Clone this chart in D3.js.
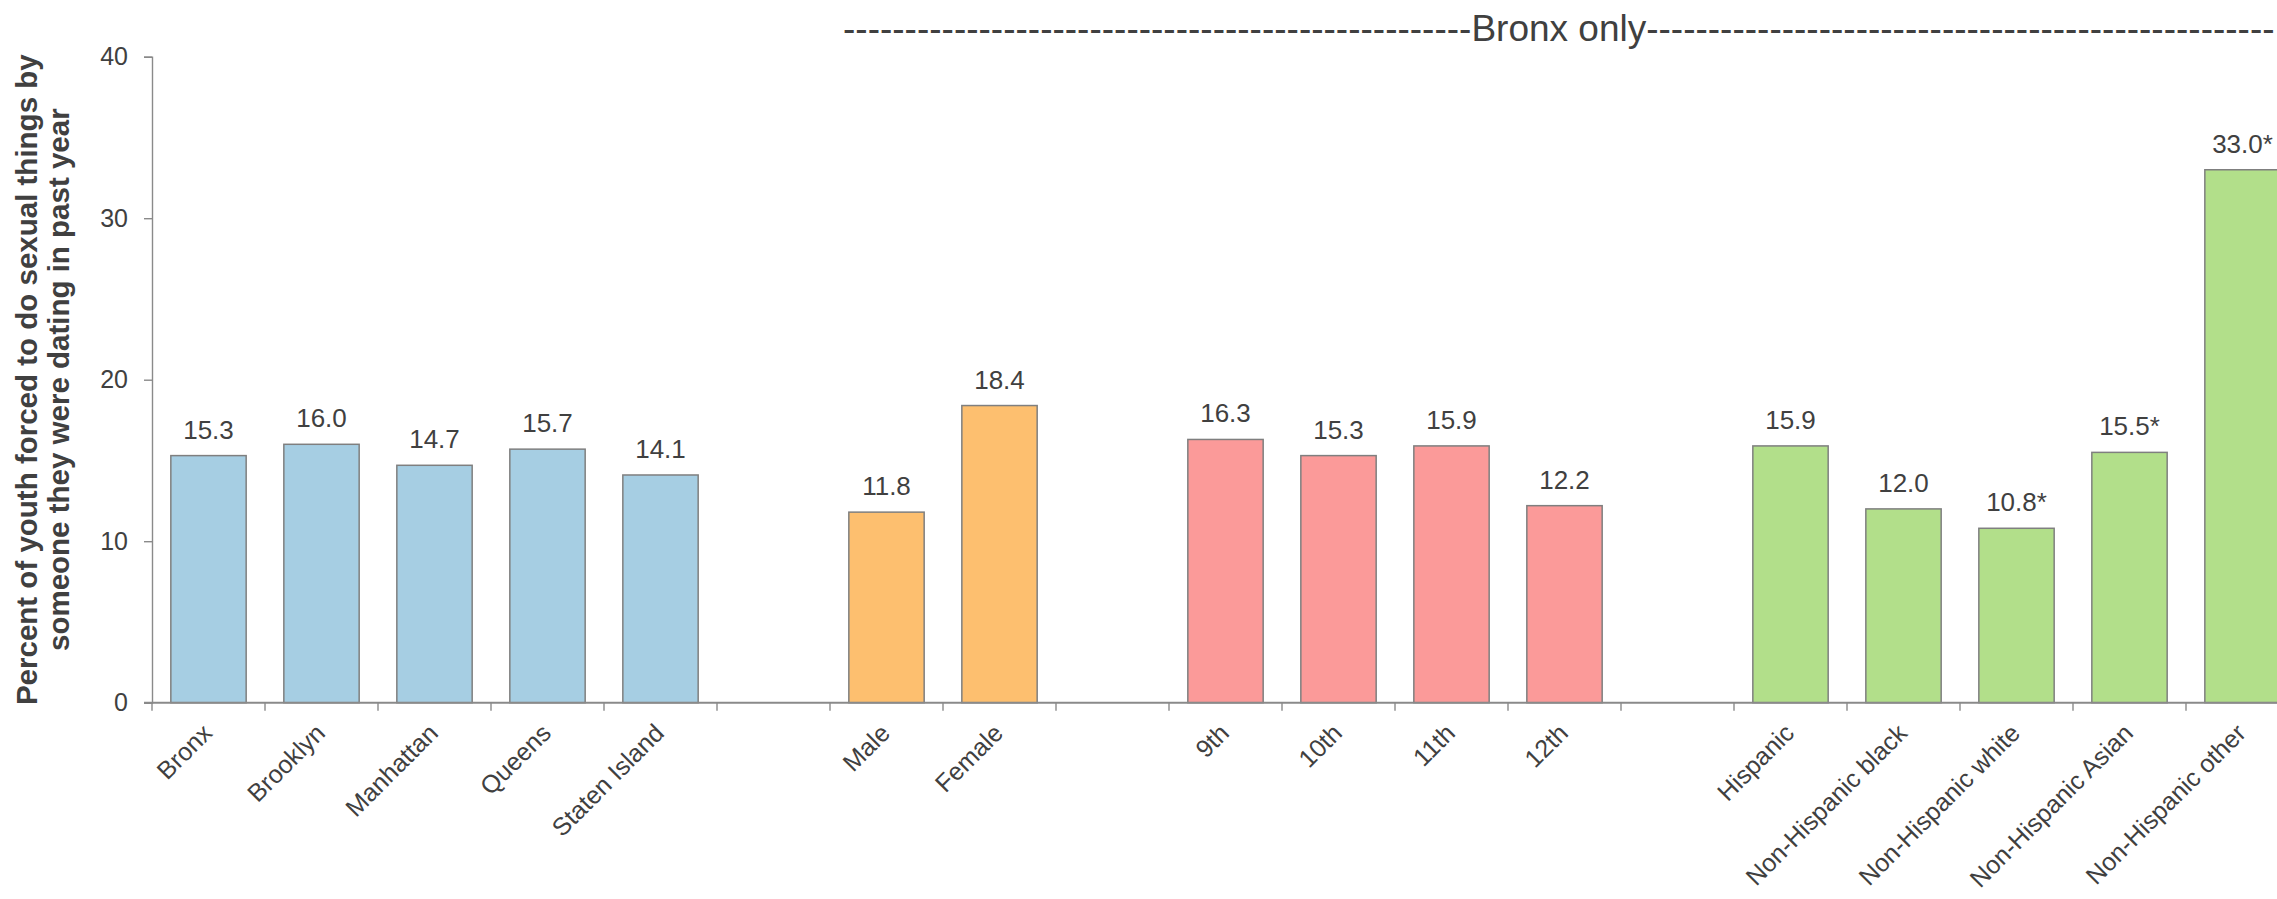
<!DOCTYPE html>
<html>
<head>
<meta charset="utf-8">
<script src="https://cdn.jsdelivr.net/npm/d3@7"></script>
<style>
  html, body { margin: 0; padding: 0; background: #fff; }
  svg { display: block; font-family: "Liberation Sans", Arial, Helvetica, sans-serif; }
</style>
</head>
<body>
<svg id="chart" width="2277" height="899"></svg>
<script>
// Borough-level estimates
const boroughs = ["Bronx", "Brooklyn", "Manhattan", "Queens", "Staten Island"];
const boroughValues = [15.3, 16.0, 14.7, 15.7, 14.1];

// Bronx only: by sex, grade and race/ethnicity
const sexes = ["Male", "Female"];
const sexValues = [11.8, 18.4];

const grades = ["9th", "10th", "11th", "12th"];
const gradeValues = [16.3, 15.3, 15.9, 12.2];

const races = ["Hispanic", "Non-Hispanic black", "Non-Hispanic white", "Non-Hispanic Asian", "Non-Hispanic other"];
const raceValues = [15.9, 12.0, 10.8, 15.5, 33.0];
const raceNotes = ["", "", "*", "*", "*"];

const yTicks = [0, 10, 20, 30, 40];
const yTitle = ["Percent of youth forced to do sexual things by", "someone they were dating in past year"];
const headerLabel = "Bronx only";

const groupColors = ["#a6cee3", "#fdbf6f", "#fb9a99", "#b2df8a"];

// Assemble the bars with spacer slots between groups
const groups = [
  { names: boroughs, values: boroughValues, notes: boroughs.map(() => "") },
  { names: sexes, values: sexValues, notes: sexes.map(() => "") },
  { names: grades, values: gradeValues, notes: grades.map(() => "") },
  { names: races, values: raceValues, notes: raceNotes }
];
const domain = [];
const bars = [];
groups.forEach((g, gi) => {
  if (gi > 0) domain.push("__gap" + gi);
  g.names.forEach((n, i) => {
    domain.push(n);
    bars.push({ name: n, value: g.values[i], note: g.notes[i], color: groupColors[gi] });
  });
});

const svg = d3.select("#chart");
const left = 152, step = 113;
const x = d3.scaleBand()
  .domain(domain)
  .range([left, left + step * domain.length])
  .paddingInner(1 / 3)
  .paddingOuter(1 / 6);
const y = d3.scaleLinear().domain([0, 40]).range([702.7, 56.7]);

const textColor = "#404040";
const axisColor = "#8a8a8a";

// Y axis
const yAxis = svg.append("g")
  .attr("transform", `translate(${left},0)`)
  .call(d3.axisLeft(y).tickValues(yTicks).tickSize(8).tickPadding(16).tickFormat(d3.format("d")));
yAxis.select(".domain").attr("stroke", axisColor).attr("stroke-width", 1.4);
yAxis.selectAll(".tick line").attr("stroke", axisColor).attr("stroke-width", 1.4);
yAxis.selectAll(".tick text")
  .attr("fill", textColor)
  .style("font-size", "25px")
  .style("font-family", "\"Liberation Sans\", Arial, sans-serif");

// Y axis title
const titleG = svg.append("g")
  .attr("transform", `translate(0,${(y(0) + y(40)) / 2}) rotate(-90)`);
titleG.selectAll("text")
  .data(yTitle)
  .join("text")
  .attr("x", 0)
  .attr("y", (d, i) => 37 + i * 32)
  .attr("text-anchor", "middle")
  .attr("fill", textColor)
  .style("font-size", "29.5px")
  .style("font-weight", "bold")
  .text(d => d);

// Bars
svg.append("g")
  .selectAll("rect")
  .data(bars)
  .join("rect")
  .attr("x", d => x(d.name))
  .attr("y", d => y(d.value))
  .attr("width", x.bandwidth())
  .attr("height", d => y(0) - y(d.value))
  .attr("fill", d => d.color)
  .attr("stroke", "#7f7f7f")
  .attr("stroke-width", 1.5);

// Value labels
svg.append("g")
  .selectAll("text")
  .data(bars)
  .join("text")
  .attr("x", d => x(d.name) + x.bandwidth() / 2)
  .attr("y", d => y(d.value) - 17)
  .attr("text-anchor", "middle")
  .attr("fill", textColor)
  .style("font-size", "26px")
  .text(d => d3.format(".1f")(d.value) + d.note);

// X axis: baseline and ticks at every slot boundary
const xAxisG = svg.append("g");
xAxisG.append("line")
  .attr("x1", left - 8)
  .attr("x2", x.range()[1])
  .attr("y1", y(0))
  .attr("y2", y(0))
  .attr("stroke", axisColor)
  .attr("stroke-width", 2);
const boundaries = domain.map(d => x(d) - x.step() * x.paddingInner() / 2).concat([x.range()[1]]);
xAxisG.selectAll("line.tick")
  .data(boundaries)
  .join("line")
  .attr("class", "tick")
  .attr("x1", d => d)
  .attr("x2", d => d)
  .attr("y1", y(0))
  .attr("y2", y(0) + 8)
  .attr("stroke", axisColor)
  .attr("stroke-width", 1.4);

// Category labels, rotated
xAxisG.selectAll("text")
  .data(bars)
  .join("text")
  .attr("transform", d => `translate(${x(d.name) + x.bandwidth() / 2 + 5},${y(0) + 32}) rotate(-45)`)
  .attr("text-anchor", "end")
  .attr("fill", textColor)
  .style("font-size", "25px")
  .text(d => d.name);

// Header spanning the Bronx-only groups
const dashes = "-".repeat(51);
svg.append("text")
  .attr("x", 843)
  .attr("y", 40.7)
  .attr("fill", textColor)
  .style("font-size", "37px")
  .text(dashes + headerLabel + dashes);
</script>
</body>
</html>
